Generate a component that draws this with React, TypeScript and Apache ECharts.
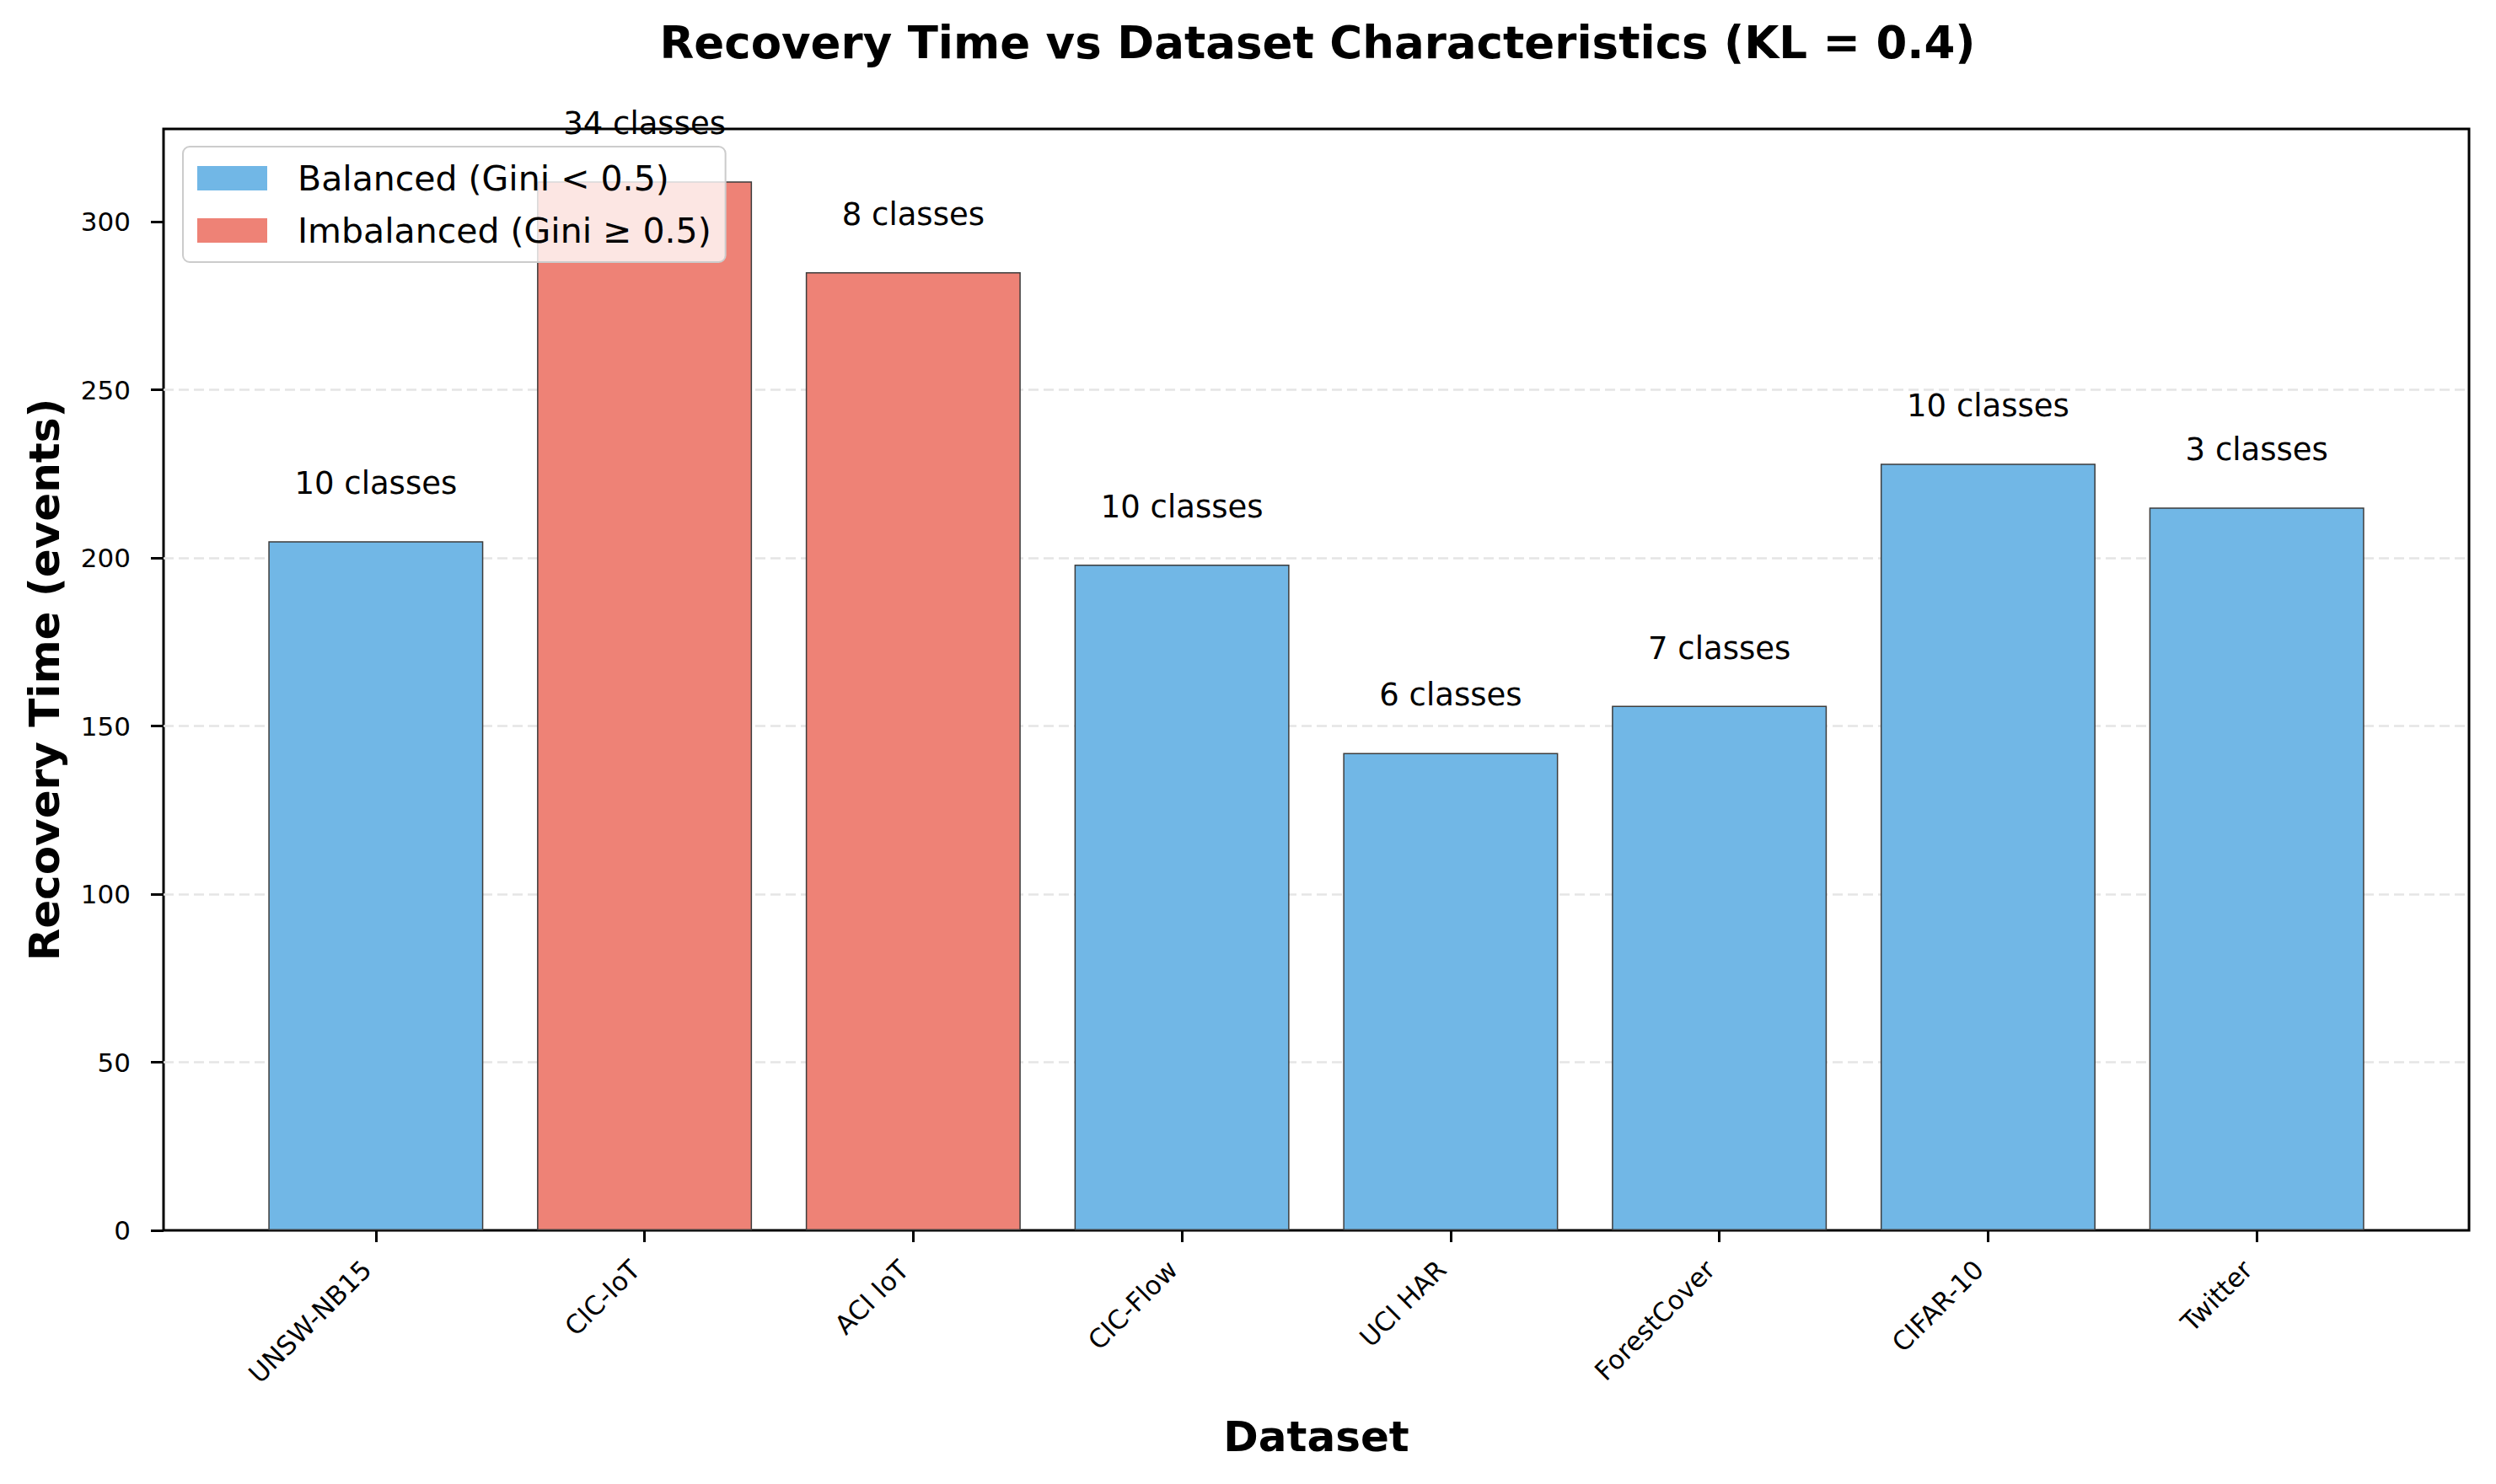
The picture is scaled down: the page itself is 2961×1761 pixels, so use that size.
import React, { useEffect, useRef } from "react";
import * as echarts from "echarts";

const datasets = ["UNSW-NB15", "CIC-IoT", "ACI IoT", "CIC-Flow", "UCI HAR", "ForestCover", "CIFAR-10", "Twitter"];
const recoveryTime = [205, 312, 285, 198, 142, 156, 228, 215];
const numClasses = [10, 34, 8, 10, 6, 7, 10, 3];
const imbalanced = [false, true, true, false, false, false, false, false];
const yTicks = [0, 50, 100, 150, 200, 250, 300];
const xPositions = [0, 1, 2, 3, 4, 5, 6, 7];

const W = 2945;
const H = 1745;
const FONT = "DejaVu Sans";

export default function App() {
  const ref = useRef<HTMLDivElement>(null);
  useEffect(() => {
    if (!ref.current) return;
    const chart = echarts.init(ref.current, undefined, { renderer: "svg" });
    const gridLeft = 186, gridRight = 24, gridTop = 145, gridBottom = 293;
    const xMin = -0.79, xMax = 7.79;
    const plotW = W - gridLeft - gridRight;
    const barW = (0.8 * plotW) / (xMax - xMin);

    const balancedData = xPositions.filter((i) => !imbalanced[i]).map((i) => [i, recoveryTime[i]]);
    const imbalancedData = xPositions.filter((i) => imbalanced[i]).map((i) => [i, recoveryTime[i]]);

    const label = {
      show: true,
      position: "top",
      distance: 50,
      fontFamily: FONT,
      fontSize: 37,
      color: "#000",
      formatter: (p: any) => `${numClasses[p.value[0]]} classes`,
    };

    chart.setOption({
      animation: false,
      backgroundColor: "#fff",
      textStyle: { fontFamily: FONT },
      title: {
        text: "Recovery Time vs Dataset Characteristics (KL = 0.4)",
        left: 1555,
        top: 16,
        padding: 0,
        textAlign: "center",
        textStyle: { fontFamily: FONT, fontSize: 53, fontWeight: "bold", color: "#000" },
      },
      legend: {
        orient: "vertical",
        left: 209,
        top: 166,
        itemWidth: 83,
        itemHeight: 29,
        itemGap: 21,
        padding: [17, 17, 17, 17],
        backgroundColor: "rgba(255,255,255,0.8)",
        borderColor: "#cccccc",
        borderWidth: 2,
        borderRadius: 8,
        icon: "rect",
        itemStyle: { borderWidth: 0 },
        textStyle: { fontFamily: FONT, fontSize: 41, color: "#000", padding: [0, 0, 0, 31] },
        data: ["Balanced (Gini < 0.5)", "Imbalanced (Gini ≥ 0.5)"],
      },
      grid: {
        left: gridLeft,
        right: gridRight,
        top: gridTop,
        bottom: gridBottom,
        show: true,
        borderColor: "#000",
        borderWidth: 3,
        backgroundColor: "transparent",
      },
      xAxis: {
        type: "value",
        min: xMin,
        max: xMax,
        name: "Dataset",
        nameLocation: "middle",
        nameGap: 220,
        nameTextStyle: { fontFamily: FONT, fontSize: 50, fontWeight: "bold", color: "#000" },
        axisLine: { show: false, onZero: false },
        axisTick: { show: true, length: 14, lineStyle: { color: "#000", width: 3 }, customValues: xPositions },
        axisLabel: {
          customValues: xPositions,
          rotate: 45,
          margin: 52,
          verticalAlign: "bottom",
          fontFamily: FONT,
          fontSize: 31,
          color: "#000",
          formatter: (v: number) => datasets[Math.round(v)] ?? "",
        },
        splitLine: { show: false },
      },
      yAxis: {
        type: "value",
        min: 0,
        max: 327.6,
        name: "Recovery Time (events)",
        nameLocation: "middle",
        nameGap: 116,
        nameTextStyle: { fontFamily: FONT, fontSize: 50, fontWeight: "bold", color: "#000" },
        axisLine: { show: false, onZero: false },
        axisTick: { show: true, length: 15, lineStyle: { color: "#000", width: 3 }, customValues: yTicks },
        axisLabel: { customValues: yTicks, margin: 39, fontFamily: FONT, fontSize: 31, color: "#000" },
        splitLine: {
          show: true,
          showMinLine: false,
          showMaxLine: false,
          lineStyle: { color: "#e5e5e5", width: 2.5, type: [12, 6] },
        },
      },
      series: [
        {
          name: "Balanced (Gini < 0.5)",
          type: "bar",
          data: balancedData,
          barWidth: barW,
          barGap: "-100%",
          itemStyle: { color: "rgb(113,183,230)", borderColor: "#3d3d3d", borderWidth: 1.5 },
          label,
        },
        {
          name: "Imbalanced (Gini ≥ 0.5)",
          type: "bar",
          data: imbalancedData,
          barWidth: barW,
          barGap: "-100%",
          itemStyle: { color: "rgb(238,130,118)", borderColor: "#3d3d3d", borderWidth: 1.5 },
          label,
        },
      ],
    });
    return () => chart.dispose();
  }, []);
  return <div ref={ref} style={{ width: W, height: H }} />;
}
